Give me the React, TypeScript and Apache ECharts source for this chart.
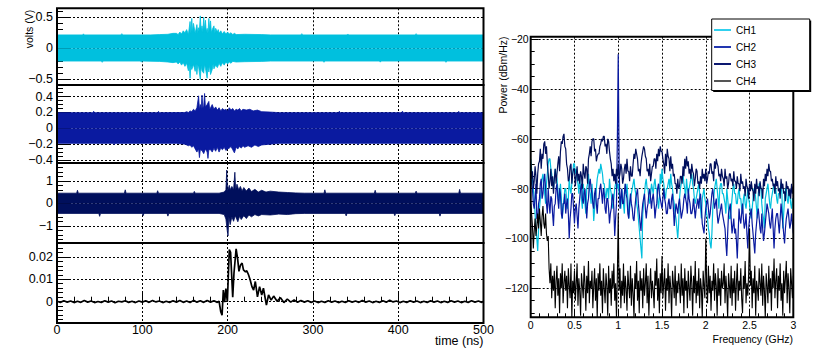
import React, { useEffect, useRef } from 'react';
import * as echarts from 'echarts';

// ---------------- time-domain traces: [time (ns), volts] ----------------
const ch1Upper: number[][] = [
  [0,0.215],[30,0.215],[31,0.232],[32,0.215],[75,0.215],[76,0.235],[77,0.215],[110,0.215],[120,0.22],[130,0.225],[136,0.24],
  [140,0.24],[142,0.22],[144,0.26],[146,0.23],[148,0.28],[150,0.25],[152,0.30],[154,0.22],[156,0.43],[157,0.24],[158,0.48],[159,0.26],[160,0.40],[162,0.24],[164,0.38],[165,0.25],[166,0.33],[167,0.30],[168,0.52],[169,0.28],[170,0.36],[171,0.26],[172,0.50],[173,0.30],[174,0.45],[175,0.26],[176,0.32],[177,0.24],[178,0.48],[179,0.30],[180,0.44],[181,0.25],[182,0.30],[184,0.36],[185,0.24],[186,0.32],[188,0.26],[189,0.30],[190,0.24],[192,0.28],[194,0.23],[196,0.27],[198,0.23],[200,0.26],[202,0.23],[204,0.25],[206,0.22],[208,0.24],[210,0.22],
  [220,0.225],[240,0.22],[250,0.215],[286,0.215],[287,0.235],[288,0.215],[340,0.215],[341,0.23],[342,0.215],[420,0.215],[421,0.235],[422,0.215],[500,0.215]
];
const ch1Lower: number[][] = [
  [0,-0.205],[52,-0.205],[53,-0.225],[54,-0.205],[98,-0.205],[99,-0.222],[100,-0.205],[120,-0.21],[130,-0.22],[136,-0.23],
  [140,-0.22],[142,-0.25],[144,-0.22],[146,-0.27],[148,-0.23],[150,-0.29],[152,-0.24],[154,-0.36],[155,-0.25],[156,-0.48],[157,-0.28],[158,-0.34],[160,-0.26],[162,-0.37],[163,-0.25],[164,-0.42],[165,-0.27],[166,-0.30],[168,-0.50],[169,-0.28],[170,-0.36],[172,-0.40],[173,-0.26],[174,-0.32],[176,-0.48],[177,-0.30],[178,-0.38],[179,-0.27],[180,-0.42],[182,-0.34],[183,-0.25],[184,-0.33],[186,-0.27],[188,-0.31],[190,-0.24],[192,-0.29],[194,-0.23],[196,-0.27],[198,-0.22],[200,-0.25],[202,-0.22],[204,-0.24],[206,-0.21],[210,-0.22],
  [220,-0.215],[240,-0.21],[250,-0.205],[312,-0.205],[313,-0.225],[314,-0.205],[378,-0.205],[379,-0.222],[380,-0.205],[455,-0.205],[456,-0.225],[457,-0.205],[500,-0.205]
];

const ch2Upper: number[][] = [
  [0,0.198],[42,0.198],[43,0.215],[44,0.198],[118,0.198],[119,0.214],[120,0.198],
  [150,0.20],[152,0.21],[154,0.20],[156,0.22],[158,0.21],[160,0.24],[162,0.22],[164,0.26],[166,0.41],[167,0.24],[168,0.30],[169,0.25],[170,0.42],[171,0.26],[172,0.28],[173,0.44],[174,0.27],[176,0.30],[178,0.34],[179,0.24],[180,0.26],[182,0.30],[184,0.24],[186,0.27],[188,0.23],[190,0.26],[192,0.22],[194,0.25],[196,0.23],[198,0.24],[200,0.22],[202,0.26],[204,0.23],[206,0.25],[208,0.22],[210,0.24],[212,0.23],[214,0.25],[216,0.22],[218,0.24],[222,0.23],[226,0.24],[230,0.22],[235,0.23],[240,0.21],
  [250,0.205],[260,0.198],[330,0.198],[331,0.215],[332,0.198],[404,0.198],[405,0.216],[406,0.198],[470,0.198],[471,0.214],[472,0.198],[500,0.198]
];
const ch2Lower: number[][] = [
  [0,-0.19],[66,-0.19],[67,-0.208],[68,-0.19],[140,-0.19],
  [150,-0.20],[152,-0.21],[154,-0.22],[156,-0.21],[158,-0.24],[160,-0.22],[162,-0.26],[164,-0.30],[166,-0.26],[167,-0.37],[168,-0.27],[170,-0.28],[172,-0.32],[174,-0.26],[176,-0.30],[177,-0.38],[178,-0.27],[180,-0.27],[182,-0.30],[184,-0.25],[186,-0.29],[188,-0.24],[190,-0.30],[192,-0.25],[194,-0.27],[196,-0.24],[198,-0.28],[200,-0.26],[202,-0.25],[204,-0.23],[206,-0.27],[208,-0.31],[210,-0.24],[212,-0.26],[214,-0.23],[216,-0.25],[218,-0.22],[220,-0.24],[224,-0.22],[228,-0.24],[232,-0.21],[236,-0.23],[240,-0.21],
  [250,-0.20],[260,-0.19],[352,-0.19],[353,-0.207],[354,-0.19],[436,-0.19],[437,-0.21],[438,-0.19],[500,-0.19]
];

const ch3Upper: number[][] = [
  [0,0.45],[23,0.45],[24,0.58],[25,0.45],[79,0.45],[80,0.60],[81,0.45],[117,0.45],[118,0.56],[119,0.45],[160,0.45],[161,0.53],[162,0.45],[190,0.45],
  [196,0.50],[198,0.60],[199,1.48],[200,0.55],[202,0.80],[203,0.60],[205,0.75],[207,0.60],[208.5,1.38],[209.5,0.60],[211,0.85],[213,0.60],[215,0.75],[217,0.55],[219,0.70],[222,0.55],[225,0.68],[228,0.52],[232,0.62],[236,0.50],[240,0.58],[245,0.50],[250,0.54],[260,0.50],[270,0.48],
  [280,0.46],[290,0.45],[313,0.45],[314,0.60],[315,0.45],[372,0.45],[373,0.58],[374,0.45],[420,0.45],[421,0.54],[422,0.45],[471,0.45],[472,0.62],[473,0.45],[500,0.45]
];
const ch3Lower: number[][] = [
  [0,-0.45],[49,-0.45],[50,-0.58],[51,-0.45],[100,-0.45],[101,-0.55],[102,-0.45],[129,-0.45],[130,-0.57],[131,-0.45],[190,-0.45],
  [196,-0.50],[198,-0.70],[199.5,-1.20],[200.5,-1.45],[201.5,-0.60],[203,-0.95],[205,-0.60],[207,-0.80],[209,-0.55],[212,-0.82],[214,-0.58],[216,-0.72],[219,-0.55],[222,-0.68],[225,-0.52],[228,-0.60],[232,-0.50],[236,-0.56],[240,-0.50],[250,-0.52],[260,-0.48],[270,-0.50],
  [280,-0.46],[290,-0.45],[338,-0.45],[339,-0.56],[340,-0.45],[395,-0.45],[396,-0.55],[397,-0.45],[448,-0.45],[449,-0.57],[450,-0.45],[500,-0.45]
];

const ch4Trace: number[][] = [
  [0,0.0002],[4,-0.0003],[8,0.0004],[12,-0.0002],[16,0.0003],[20,-0.0004],[24,0.0002],[28,-0.0003],[32,0.0005],[36,-0.0002],[40,0.0003],[44,-0.0004],[48,0.0001],[52,-0.0003],[56,0.0004],[60,-0.0002],[64,0.0003],[68,-0.0005],[72,0.0002],[76,-0.0001],[80,0.0004],[84,-0.0003],[88,0.0002],[92,-0.0004],[96,0.0003],[100,-0.0002],[104,0.0004],[108,-0.0003],[112,0.0005],[116,-0.0001],[120,0.0003],[124,-0.0004],[128,0.0002],[132,-0.0003],[136,0.0004],[140,-0.0002],[144,0.0005],[148,-0.0003],[152,0.0003],[156,-0.0004],[160,0.0006],[164,-0.0002],[168,0.0004],[172,-0.0003],[176,0.0005],[180,-0.0002],[184,0.0004],[188,-0.0003],[190,0.0002],
  [192,-0.0045],[193.5,-0.006],[195,0.0052],[196.5,-0.0002],[198,0.0058],[199.7,0],[202,0.0232],[203.5,0.022],[206,0.002],[207.5,0.0129],[210,0.0235],[211.8,0.019],[213.3,0.0135],[215,0.0162],[217,0.0172],[218.6,0.0142],[221,0.0133],[222.5,0.0138],[224.5,0.012],[226.5,0.0097],[228.5,0.0067],[230.5,0.0052],[232.5,0.009],[235,0.0022],[237.5,0.0067],[240,0.003],[242,0.006],[245.5,-0.0015],[248,0.003],[251,0.0007],[254,0.0025],[258,0.0002],[262,0.0018],[266,-0.0004],[270,0.0012],[274,-0.0002],[278,0.0008],[282,-0.0003],[286,0.0005],
  [290,-0.0002],[294,0.0004],[298,-0.0003],[302,0.0003],[306,-0.0004],[310,0.0002],[314,-0.0003],[318,0.0004],[322,-0.0002],[326,0.0003],[330,-0.0004],[334,0.0002],[338,-0.0003],[342,0.0004],[346,-0.0002],[350,0.0003],[354,-0.0003],[358,0.0005],[362,-0.0002],[366,0.0003],[370,-0.0004],[374,0.0002],[378,-0.0003],[382,0.0004],[386,-0.0002],[390,0.0006],[394,-0.0001],[398,0.0003],[402,-0.0004],[406,0.0002],[410,-0.0003],[414,0.0004],[418,-0.0002],[422,0.0003],[426,-0.0004],[430,0.0002],[434,-0.0003],[438,0.0004],[442,-0.0002],[446,0.0003],[450,-0.0004],[454,0.0002],[458,-0.0003],[462,0.0004],[466,-0.0002],[470,0.0003],[474,-0.0004],[478,0.0002],[482,-0.0003],[486,0.0004],[490,-0.0002],[494,0.0003],[498,-0.0003],[500,0.0002]
];

// ---------------- power spectra (dBm/Hz), one value every 0.01 GHz from 0 to 3 GHz ----------------
const freqStepGHz = 0.01;
const ch1Power = [
  -68,-72,-76,-80,-84,-90,-96,-100,-105,-96,
  -88,-84,-80,-76,-74,-78,-82,-86,-78,-74,
  -70,-68,-68,-72,-74,-78,-80,-76,-72,-74,
  -76,-80,-86,-82,-78,-84,-92,-88,-84,-80,
  -80,-84,-88,-84,-76,-80,-82,-78,-74,-70,
  -70,-74,-72,-76,-78,-82,-76,-80,-84,-88,
  -78,-82,-86,-90,-80,-78,-74,-80,-82,-86,
  -78,-84,-93,-88,-84,-80,-76,-74,-72,-74,
  -70,-72,-74,-78,-78,-82,-84,-80,-80,-84,
  -76,-80,-82,-86,-88,-84,-80,-78,-76,-80,
  -78,-82,-84,-88,-80,-84,-86,-90,-78,-82,
  -78,-84,-92,-88,-84,-82,-80,-78,-76,-80,
  -82,-86,-88,-92,-96,-100,-104,-108,-90,-86,
  -82,-78,-76,-80,-80,-84,-86,-82,-78,-80,
  -82,-78,-76,-80,-80,-84,-88,-84,-74,-78,
  -72,-76,-78,-82,-84,-80,-80,-78,-76,-80,
  -74,-78,-80,-84,-86,-90,-92,-96,-100,-94,
  -84,-80,-78,-76,-74,-78,-80,-84,-76,-80,
  -82,-80,-78,-76,-74,-78,-80,-84,-86,-84,
  -82,-80,-78,-82,-88,-92,-84,-82,-80,-84,
  -86,-90,-92,-96,-98,-102,-104,-98,-88,-84,
  -80,-78,-76,-80,-84,-88,-80,-78,-78,-82,
  -82,-84,-86,-90,-80,-84,-88,-92,-92,-88,
  -84,-80,-78,-82,-82,-86,-86,-82,-80,-84,
  -84,-88,-90,-84,-82,-86,-88,-84,-80,-84,
  -86,-90,-92,-88,-84,-80,-80,-84,-88,-92,
  -82,-78,-78,-80,-86,-90,-92,-96,-84,-82,
  -80,-78,-82,-86,-88,-84,-82,-80,-78,-82,
  -80,-84,-86,-82,-82,-80,-78,-82,-96,-90,
  -84,-80,-80,-84,-86,-82,-82,-86,-88,-84,
  -84
];
const ch2Power = [
  -72,-78,-80,-86,-88,-84,-78,-92,-92,-86,
  -84,-78,-76,-84,-82,-77,-74,-80,-86,-90,
  -80,-86,-90,-83,-84,-90,-95,-87,-86,-80,
  -78,-84,-88,-80,-82,-90,-92,-86,-86,-82,
  -90,-86,-84,-90,-100,-92,-88,-82,-82,-88,
  -94,-88,-86,-91,-96,-88,-84,-80,-78,-84,
  -86,-82,-80,-86,-92,-86,-84,-78,-76,-80,
  -82,-86,-88,-82,-80,-86,-90,-84,-84,-80,
  -78,-82,-86,-80,-82,-88,-90,-84,-84,-88,
  -94,-90,-88,-84,-82,-88,-99,-92,-86,-60,
  -26,-70,-88,-84,-80,-86,-86,-82,-78,-82,
  -84,-90,-92,-86,-82,-86,-88,-92,-93,-88,
  -84,-82,-80,-86,-90,-94,-97,-90,-86,-84,
  -82,-88,-92,-88,-86,-82,-80,-84,-88,-84,
  -82,-86,-92,-88,-86,-80,-78,-82,-84,-86,
  -88,-84,-80,-84,-86,-90,-90,-86,-84,-88,
  -88,-84,-82,-88,-95,-90,-86,-88,-90,-86,
  -84,-88,-92,-90,-88,-84,-82,-84,-86,-90,
  -80,-84,-86,-90,-90,-88,-84,-88,-92,-88,
  -86,-84,-88,-84,-82,-88,-94,-96,-98,-92,
  -88,-86,-84,-88,-92,-90,-86,-82,-80,-84,
  -88,-86,-84,-90,-94,-92,-90,-88,-86,-90,
  -92,-94,-96,-102,-107,-98,-90,-88,-86,-92,
  -98,-95,-92,-98,-96,-101,-108,-98,-88,-92,
  -94,-90,-86,-92,-96,-94,-90,-98,-104,-96,
  -92,-90,-88,-94,-98,-102,-106,-98,-94,-90,
  -88,-92,-96,-98,-90,-96,-101,-98,-94,-90,
  -86,-88,-90,-94,-96,-92,-88,-96,-104,-96,
  -92,-90,-90,-94,-98,-92,-86,-90,-94,-98,
  -102,-96,-92,-90,-88,-92,-96,-94,-90,-94,
  -98
];
const ch3Power = [
  -70,-76,-73,-80,-77,-71,-75,-82,-74,-70,
  -69,-64,-72,-66,-68,-62,-61,-66,-63,-70,
  -74,-80,-77,-72,-79,-75,-82,-76,-72,-78,
  -74,-70,-67,-73,-65,-61,-62,-59,-58,-63,
  -64,-70,-72,-77,-76,-71,-70,-78,-74,-72,
  -72,-79,-75,-71,-77,-74,-78,-73,-75,-80,
  -70,-74,-76,-71,-72,-78,-68,-66,-63,-67,
  -61,-60,-60,-65,-64,-69,-67,-66,-66,-63,
  -62,-60,-61,-59,-59,-63,-62,-66,-60,-61,
  -65,-68,-70,-75,-72,-77,-74,-78,-72,-75,
  -70,-76,-74,-70,-72,-78,-76,-72,-70,-74,
  -68,-73,-73,-77,-71,-75,-75,-70,-66,-68,
  -64,-66,-68,-73,-72,-75,-70,-67,-65,-63,
  -64,-67,-68,-73,-72,-75,-70,-77,-74,-71,
  -71,-68,-68,-72,-66,-69,-64,-67,-63,-65,
  -65,-68,-70,-74,-66,-71,-64,-67,-68,-73,
  -67,-72,-70,-75,-74,-78,-78,-82,-76,-80,
  -79,-75,-75,-78,-71,-75,-68,-72,-67,-71,
  -69,-74,-72,-76,-70,-73,-74,-79,-76,-72,
  -73,-78,-77,-80,-75,-78,-72,-76,-74,-77,
  -72,-78,-76,-73,-74,-70,-70,-74,-73,-77,
  -69,-72,-68,-70,-71,-75,-74,-77,-72,-75,
  -76,-79,-72,-76,-75,-80,-78,-74,-74,-77,
  -76,-79,-73,-77,-77,-80,-75,-78,-78,-81,
  -74,-78,-77,-80,-79,-83,-76,-79,-80,-84,
  -78,-81,-77,-80,-81,-85,-78,-82,-76,-80,
  -79,-83,-77,-80,-80,-84,-76,-79,-74,-77,
  -72,-75,-70,-73,-73,-77,-76,-79,-78,-82,
  -75,-79,-77,-81,-80,-84,-76,-80,-78,-82,
  -81,-85,-77,-80,-79,-83,-80,-84,-78,-82,
  -79
];
const ch4Power = [
  -86,-90,-95,-104,-97,-92,-99,-95,-90,-96,
  -88,-93,-99,-91,-87,-94,-96,-90,-98,-101,
  -99,-112,-118,-110,-124,-115,-121,-113,-128,-117,
  -111,-123,-116,-130,-114,-120,-110,-126,-118,-113,
  -121,-115,-128,-112,-119,-124,-110,-132,-117,-122,
  -113,-125,-118,-110,-127,-116,-121,-131,-114,-119,
  -124,-111,-118,-129,-115,-122,-109,-126,-117,-120,
  -113,-128,-119,-112,-125,-116,-132,-114,-121,-110,
  -123,-117,-130,-112,-120,-126,-114,-119,-131,-111,
  -122,-116,-127,-113,-120,-110,-125,-118,-132,-115,
  -90,-121,-112,-128,-117,-123,-110,-126,-115,-120,
  -129,-113,-119,-124,-111,-127,-116,-122,-132,-114,
  -120,-109,-125,-117,-130,-113,-121,-116,-128,-112,
  -123,-118,-110,-126,-115,-131,-119,-112,-124,-117,
  -121,-128,-113,-119,-108,-125,-116,-130,-114,-122,
  -107,-124,-118,-112,-129,-116,-121,-110,-126,-115,
  -120,-132,-113,-118,-124,-111,-127,-117,-122,-114,
  -119,-126,-110,-123,-116,-130,-112,-121,-117,-128,
  -113,-120,-125,-111,-118,-131,-115,-122,-109,-126,
  -117,-123,-112,-128,-116,-120,-132,-113,-119,-124,
  -100,-118,-126,-111,-122,-115,-129,-117,-121,-110,
  -125,-114,-119,-131,-112,-123,-116,-127,-113,-120,
  -118,-110,-126,-115,-121,-132,-114,-119,-124,-111,
  -127,-116,-122,-113,-129,-118,-110,-125,-117,-121,
  -112,-124,-130,-115,-120,-109,-126,-118,-123,-114,
  -96,-119,-113,-128,-116,-122,-111,-131,-117,-120,
  -125,-112,-118,-123,-110,-127,-115,-121,-132,-114,
  -119,-126,-111,-122,-116,-129,-113,-120,-108,-124,
  -117,-112,-128,-115,-121,-110,-125,-118,-131,-113,
  -122,-116,-109,-126,-114,-120,-130,-112,-118,-124,
  -115
];

// ---------------- axes ----------------
const channelNames = ['CH1', 'CH2', 'CH3', 'CH4'];
const voltRanges = [[-0.589, 0.642], [-0.438, 0.547], [-1.764, 1.791], [-0.00949, 0.02615]];
const voltMajorStep = [0.5, 0.2, 1, 0.01];
const voltMinorStep = [0.1, 0.05, 0.2, 0.002];
const timeRange = [0, 500];
const timeStep = 100;
const powerRange = [-131.65, -18.96];
const powerMajorStep = 20;
const powerMinorStep = 5;
const freqRange = [0, 3];
const freqStep = 0.5;

// ---------------- styling / layout ----------------
const FONT = 'Liberation Sans';
const COLORS = ['#00c0de', '#0a1aa0', '#000f5c', '#000000'];
const LEFT_X = 57;
const LEFT_W = 426.5;
const PANELS = [
  { top: 8.3, h: 76.7 },
  { top: 85, h: 78 },
  { top: 163, h: 80 },
  { top: 243, h: 80 },
];
const RIGHT = { x: 530.7, y: 36.7, w: 262.6, h: 280.6 };

const fmt = (v: number) => {
  const r = Math.round(v * 1e6) / 1e6;
  return (r === 0 ? '0' : String(r)).replace('-', '\u2212');
};

const dotted = { color: '#000', width: 1, type: [2, 2] as any };

function buildOption() {
  const grids: any[] = PANELS.map((p) => ({
    left: LEFT_X, top: p.top, width: LEFT_W, height: p.h, show: false, outerBoundsMode: 'none',
  }));
  grids.push({ left: RIGHT.x, top: RIGHT.y, width: RIGHT.w, height: RIGHT.h, show: false, outerBoundsMode: 'none' });

  const xAxes: any[] = PANELS.map((_, i) => ({
    gridIndex: i, type: 'value', min: timeRange[0], max: timeRange[1], interval: timeStep,
    axisLine: { show: false },
    axisTick: { show: i === 3, inside: true, length: 10, lineStyle: { color: '#000' } },
    minorTick: { show: i === 3, splitNumber: 5, length: 5, lineStyle: { color: '#000' } },
    axisLabel: { show: i === 3, margin: 1, fontSize: 12.5, lineHeight: 11, fontFamily: FONT, color: '#000', formatter: fmt },
    splitLine: { show: true, lineStyle: dotted },
  }));
  xAxes.push({
    gridIndex: 4, type: 'value', min: freqRange[0], max: freqRange[1], interval: freqStep,
    axisLine: { show: false },
    axisTick: { show: true, inside: true, length: 8, lineStyle: { color: '#000' } },
    minorTick: { show: true, splitNumber: 5, length: 4, lineStyle: { color: '#000' } },
    axisLabel: { show: true, margin: 3, fontSize: 10.5, lineHeight: 10, fontFamily: FONT, color: '#000', formatter: fmt },
    splitLine: { show: true, lineStyle: dotted },
  });

  const yMajor: any[] = PANELS.map((_, i) => ({
    gridIndex: i, type: 'value', position: 'left',
    min: voltRanges[i][0], max: voltRanges[i][1],
    minInterval: voltMajorStep[i], maxInterval: voltMajorStep[i],
    axisLine: { show: false },
    axisTick: { show: true, inside: true, length: 12, lineStyle: { color: '#000' } },
    axisLabel: { show: true, interval: 0, showMinLabel: false, showMaxLabel: false, margin: 4, fontSize: 12.5, fontFamily: FONT, color: '#000', formatter: fmt },
    splitLine: { show: true, lineStyle: dotted },
  }));
  yMajor.push({
    gridIndex: 4, type: 'value', position: 'left',
    min: powerRange[0], max: powerRange[1],
    minInterval: powerMajorStep, maxInterval: powerMajorStep,
    axisLine: { show: false },
    axisTick: { show: true, inside: true, length: 8, lineStyle: { color: '#000' } },
    axisLabel: { show: true, interval: 0, showMinLabel: false, showMaxLabel: false, margin: 2, fontSize: 10.5, fontFamily: FONT, color: '#000', formatter: fmt },
    splitLine: { show: true, lineStyle: dotted },
  });
  const minorAxis = (gridIndex: number, range: number[], step: number, len: number) => ({
    gridIndex, type: 'value', position: 'left', min: range[0], max: range[1],
    minInterval: step, maxInterval: step,
    axisLine: { show: false },
    axisTick: { show: true, inside: true, length: len, lineStyle: { color: '#000' } },
    axisLabel: { show: false }, splitLine: { show: false },
  });
  const yMinor = PANELS.map((_, i) => minorAxis(i, voltRanges[i], voltMinorStep[i], 6));
  yMinor.push(minorAxis(4, powerRange, powerMinorStep, 4));

  const band = (data: number[][], color: string, idx: number) => ({
    type: 'line', data, xAxisIndex: idx, yAxisIndex: idx, showSymbol: false, symbol: 'none',
    lineStyle: { width: 0.8, color }, areaStyle: { color, opacity: 1 }, silent: true, z: 2,
  });

  const series: any[] = [
    band(ch1Upper, COLORS[0], 0), band(ch1Lower, COLORS[0], 0),
    band(ch2Upper, COLORS[1], 1), band(ch2Lower, COLORS[1], 1),
    band(ch3Upper, COLORS[2], 2), band(ch3Lower, COLORS[2], 2),
    {
      type: 'line', data: ch4Trace, xAxisIndex: 3, yAxisIndex: 3, showSymbol: false, symbol: 'none',
      lineStyle: { width: 1.7, color: COLORS[3] }, silent: true, z: 2,
    },
  ];
  const spectra = [ch1Power, ch2Power, ch3Power, ch4Power];
  spectra.forEach((vals, k) => {
    series.push({
      type: 'line', name: channelNames[k], xAxisIndex: 4, yAxisIndex: 4,
      data: vals.map((v, i) => [i * freqStepGHz, v]),
      showSymbol: false, symbol: 'none', silent: true,
      lineStyle: { width: k === 3 ? 1.1 : 1.2, color: COLORS[k] }, itemStyle: { color: COLORS[k] }, z: 2 + k,
    });
  });

  const frames = PANELS.map((p) => ({
    type: 'rect', z: 10, silent: true,
    shape: { x: LEFT_X, y: p.top, width: LEFT_W, height: p.h },
    style: { fill: 'rgba(0,0,0,0)', stroke: '#000', lineWidth: 2 },
  }));

  const graphic: any[] = [
    ...frames,
    {
      type: 'rect', z: 10, silent: true,
      shape: { x: RIGHT.x, y: RIGHT.y, width: RIGHT.w, height: RIGHT.h },
      style: { fill: 'rgba(0,0,0,0)', stroke: '#000', lineWidth: 2 },
    },
    {
      type: 'rect', z: 14, silent: true,
      shape: { x: 713.2, y: 20.5, width: 98, height: 71.5 },
      style: { fill: '#000' },
    },
    {
      type: 'rect', z: 15, silent: true,
      shape: { x: 711.7, y: 19, width: 98, height: 71.5 },
      style: { fill: '#fff', stroke: '#000', lineWidth: 1 },
    },
    {
      type: 'text', z: 15, x: 28.5, y: 29, rotation: Math.PI / 2,
      style: { text: 'volts (V)', fontSize: 10.5, fontFamily: FONT, fill: '#000', textAlign: 'center', textVerticalAlign: 'middle', align: 'center', verticalAlign: 'middle' },
    },
    {
      type: 'text', z: 15, x: 503.3, y: 75, rotation: Math.PI / 2,
      style: { text: 'Power (dBm/Hz)', fontSize: 10.5, fontFamily: FONT, fill: '#000', textAlign: 'center', textVerticalAlign: 'middle', align: 'center', verticalAlign: 'middle' },
    },
    {
      type: 'text', z: 15, x: 483.5, y: 335.5,
      style: { text: 'time (ns)', fontSize: 12.5, lineHeight: 11, fontFamily: FONT, fill: '#000', textAlign: 'right', textVerticalAlign: 'top', align: 'right', verticalAlign: 'top' },
    },
    {
      type: 'text', z: 15, x: 793, y: 333.5,
      style: { text: 'Frequency (GHz)', fontSize: 10.5, lineHeight: 10, fontFamily: FONT, fill: '#000', textAlign: 'right', textVerticalAlign: 'top', align: 'right', verticalAlign: 'top' },
    },
  ];

  return {
    animation: false,
    backgroundColor: '#fff',
    textStyle: { fontFamily: FONT },
    grid: grids,
    xAxis: xAxes,
    yAxis: [...yMajor, ...yMinor],
    series,
    legend: {
      show: true, orient: 'vertical', left: 714, top: 24, padding: 0,
      itemWidth: 17, itemHeight: 2, itemGap: 5, icon: 'rect', selectedMode: false, z: 20,
      data: [
        { name: 'CH1', itemStyle: { color: '#30d0ee' } },
        { name: 'CH2', itemStyle: { color: '#2236b0' } },
        { name: 'CH3', itemStyle: { color: '#0c1870' } },
        { name: 'CH4', itemStyle: { color: '#555555' } },
      ],
      textStyle: { fontSize: 10, fontFamily: FONT, color: '#000', lineHeight: 12 },
    },
    graphic,
  };
}

export default function App() {
  const ref = useRef<HTMLDivElement | null>(null);
  useEffect(() => {
    document.body.style.margin = '0';
    document.body.style.overflow = 'hidden';
    if (!ref.current) return;
    const chart = echarts.init(ref.current, undefined, { renderer: 'svg' });
    chart.setOption(buildOption() as any);
    return () => chart.dispose();
  }, []);
  return <div ref={ref} style={{ width: 830, height: 356 }} />;
}
